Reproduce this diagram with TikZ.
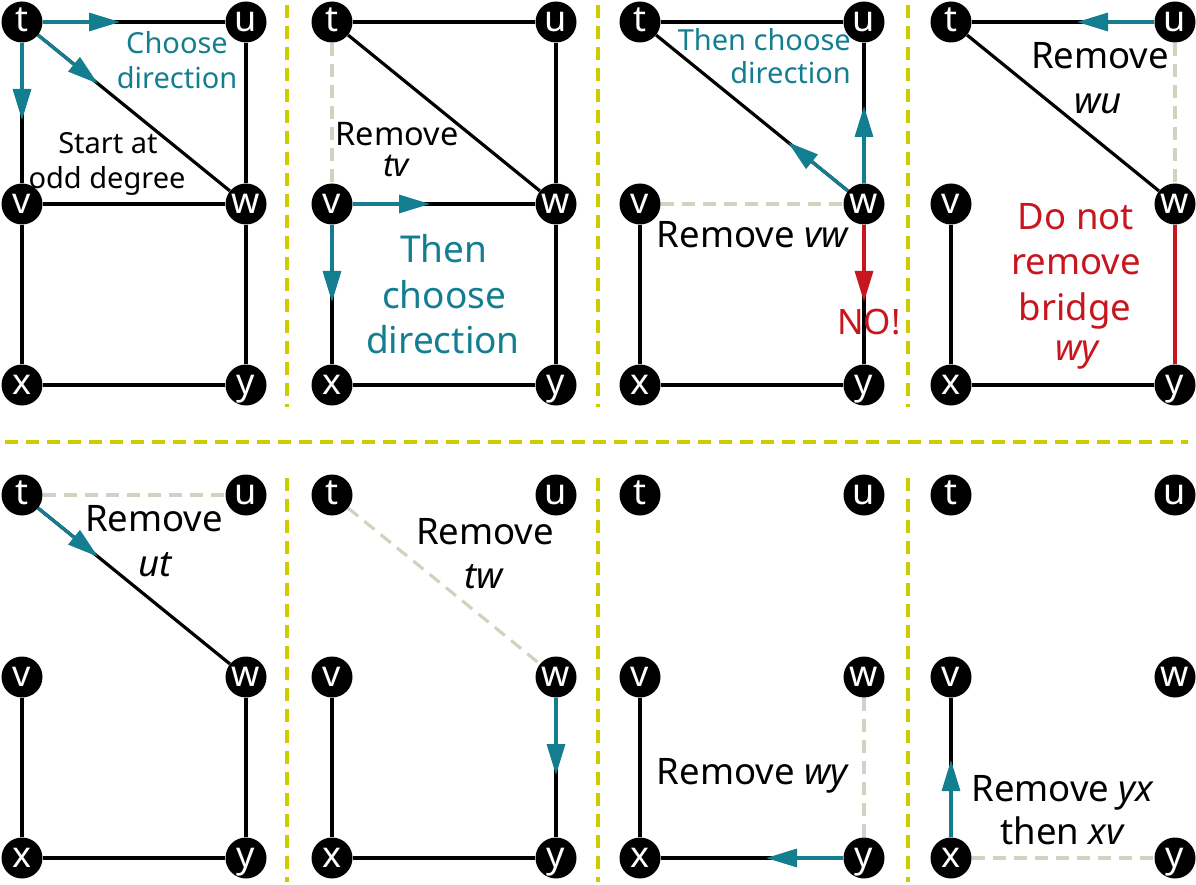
\documentclass[tikz,border=0pt]{standalone}
\usepackage{fontspec}
\setmainfont{Noto Sans}
\usetikzlibrary{arrows.meta,calc,backgrounds}
\definecolor{tealA}{HTML}{147E91}
\definecolor{redA}{HTML}{C8161E}
\definecolor{sepA}{HTML}{CCCC00}
\definecolor{goneA}{HTML}{CFD4C0}
\newcommand\fsz[1]{\fontsize{#1}{#1}\selectfont}
\newcommand\sixnodes[3]{%
\node[vtx] (t#1) at ({22+#2},{22+#3}) {t};
\node[vtx] (u#1) at ({246+#2},{22+#3}) {u};
\node[vtx] (v#1) at ({22+#2},{204+#3}) {v};
\node[vtx] (w#1) at ({246+#2},{204+#3}) {w};
\node[vtx] (x#1) at ({22+#2},{385+#3}) {x};
\node[vtx] (y#1) at ({246+#2},{385+#3}) {y};}
\newcommand\tarr[3][tealA]{\draw[arr,#1] (#2) -- ($(#2)!98pt!(#3)$);}
\tikzset{
 vtx/.style={circle,fill=black,text=white,minimum size=41pt,inner sep=0pt,font=\fsz{36},text height=19.5pt,text depth=0pt},
 blk/.style={line width=3.2pt,draw=black},
 gone/.style={line width=3.2pt,draw=goneA,dash pattern=on 13pt off 8pt},
 arr/.style={line width=3.2pt,-{Triangle[length=31pt,width=18pt]}},
 sepline/.style={line width=3.5pt,draw=sepA,dash pattern=on 13pt off 8pt},
 lbl/.style={inner sep=0pt,anchor=base},
 lblr/.style={inner sep=0pt,anchor=base east},
}
\begin{document}
\begin{tikzpicture}[x=1pt,y=-1pt]
\useasboundingbox (0,0) rectangle (1196,885);
% separators
\draw[sepline] (287,5) -- (287,407);
\draw[sepline] (598,5) -- (598,407);
\draw[sepline] (908,5) -- (908,407);
\draw[sepline] (5,442) -- (1188,442);
\draw[sepline] (287,478) -- (287,882);
\draw[sepline] (598,478) -- (598,882);
\draw[sepline] (908,478) -- (908,882);
% nodes
\sixnodes{1}{0}{0}
\sixnodes{2}{310}{0}
\sixnodes{3}{618}{0}
\sixnodes{4}{929}{0}
\sixnodes{5}{0}{473}
\sixnodes{6}{310}{473}
\sixnodes{7}{618}{473}
\sixnodes{8}{929}{473}
\begin{scope}[on background layer]
% panel 1
\draw[blk] (t1) -- (u1); \draw[blk] (t1) -- (v1); \draw[blk] (t1) -- (w1);
\draw[blk] (u1) -- (w1); \draw[blk] (v1) -- (w1); \draw[blk] (v1) -- (x1);
\draw[blk] (w1) -- (y1); \draw[blk] (x1) -- (y1);
\tarr{t1}{u1} \tarr{t1}{v1} \tarr{t1}{w1}
% panel 2
\draw[gone] (t2) -- (v2);
\draw[blk] (t2) -- (u2); \draw[blk] (t2) -- (w2); \draw[blk] (u2) -- (w2);
\draw[blk] (v2) -- (w2); \draw[blk] (v2) -- (x2); \draw[blk] (w2) -- (y2);
\draw[blk] (x2) -- (y2);
\tarr{v2}{w2} \tarr{v2}{x2}
% panel 3
\draw[gone] (v3) -- (w3);
\draw[blk] (t3) -- (u3); \draw[blk] (t3) -- (w3); \draw[blk] (u3) -- (w3);
\draw[blk] (v3) -- (x3); \draw[blk] (w3) -- (y3); \draw[blk] (x3) -- (y3);
\tarr{w3}{u3} \tarr{w3}{t3} \tarr[redA]{w3}{y3}
% panel 4
\draw[gone] (u4) -- (w4);
\draw[blk] (t4) -- (u4); \draw[blk] (t4) -- (w4); \draw[blk] (v4) -- (x4);
\draw[blk] (x4) -- (y4); \draw[line width=3.2pt,draw=redA] (w4) -- (y4);
\tarr{u4}{t4}
% panel 5
\draw[gone] (t5) -- (u5);
\draw[blk] (t5) -- (w5); \draw[blk] (v5) -- (x5); \draw[blk] (w5) -- (y5);
\draw[blk] (x5) -- (y5);
\tarr{t5}{w5}
% panel 6
\draw[gone] (t6) -- (w6);
\draw[blk] (v6) -- (x6); \draw[blk] (w6) -- (y6); \draw[blk] (x6) -- (y6);
\tarr{w6}{y6}
% panel 7
\draw[gone] (w7) -- (y7);
\draw[blk] (v7) -- (x7); \draw[blk] (x7) -- (y7);
\tarr{y7}{x7}
% panel 8
\draw[gone] (x8) -- (y8);
\draw[blk] (v8) -- (x8);
\tarr{x8}{v8}
\end{scope}
% labels panel 1
\node[lbl,text=tealA,font=\fsz{29}] (l1a) at (177,54) {Choose};
\node[lbl,text=tealA,font=\fsz{29}] (l1b) at (177,89) {direction};
\node[lbl,font=\fsz{29}] (l1c) at (108,154) {Start at};
\node[lbl,font=\fsz{29}] (l1d) at (107,189) {odd degree};
% panel 2
\node[lbl,font=\fsz{32.5}] (l2a) at (397,146) {Remove};
\node[lbl,font=\fsz{32.5}] (l2b) at (396,177) {\itshape tv};
\node[lbl,text=tealA,font=\fsz{37}] (l2c) at (444,263) {Then};
\node[lbl,text=tealA,font=\fsz{37}] (l2d) at (444,308) {choose};
\node[lbl,text=tealA,font=\fsz{37}] (l2e) at (443,353) {direction};
% panel 3
\node[lblr,text=tealA,font=\fsz{29}] (l3a) at (851,51) {Then choose};
\node[lblr,text=tealA,font=\fsz{29}] (l3b) at (851,84) {direction};
\node[lbl,font=\fsz{36.5}] (l3c) at (753,248) {Remove \textit{vw}};
\node[lbl,text=redA,font=\fsz{35}] (l3d) at (869,334) {NO!};
% panel 4
\node[lbl,font=\fsz{36.5}] (l4a) at (1100,69) {Remove};
\node[lbl,font=\fsz{36.5}] (l4b) at (1098,114) {\itshape wu};
\node[lbl,text=redA,font=\fsz{36.5}] (l4c) at (1076,230) {Do not};
\node[lbl,text=redA,font=\fsz{36.5}] (l4d) at (1076,275) {remove};
\node[lbl,text=redA,font=\fsz{36.5}] (l4e) at (1075,320) {bridge};
\node[lbl,text=redA,font=\fsz{36.5}] (l4f) at (1077,360) {\itshape wy};
% panel 5
\node[lbl,font=\fsz{36.5}] (l5a) at (154,531) {Remove};
\node[lbl,font=\fsz{36.5}] (l5b) at (155,576) {\itshape ut};
% panel 6
\node[lbl,font=\fsz{36.5}] (l6a) at (485,544) {Remove};
\node[lbl,font=\fsz{36.5}] (l6b) at (484,588) {\itshape tw};
% panel 7
\node[lbl,font=\fsz{36.5}] (l7a) at (753,784) {Remove \textit{wy}};
% panel 8
\node[lbl,font=\fsz{36.5}] (l8a) at (1063,801) {Remove \textit{yx}};
\node[lbl,font=\fsz{36.5}] (l8b) at (1063,844) {then \textit{xv}};
\end{tikzpicture}
\end{document}
